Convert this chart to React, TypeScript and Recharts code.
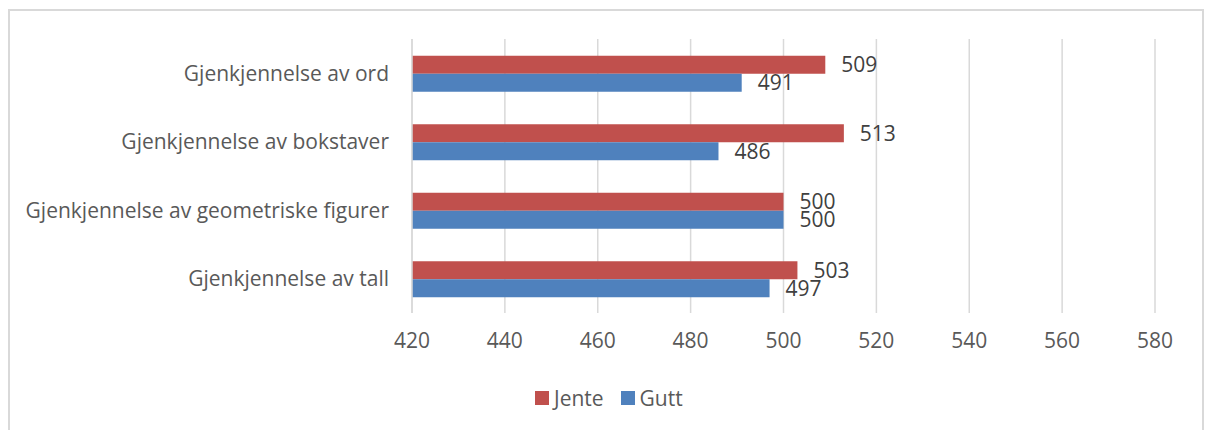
import React from "react";
import {
  BarChart,
  Bar,
  XAxis,
  YAxis,
  CartesianGrid,
  LabelList,
} from "recharts";

// data
const categories = [
  "Gjenkjennelse av ord",
  "Gjenkjennelse av bokstaver",
  "Gjenkjennelse av geometriske figurer",
  "Gjenkjennelse av tall",
];
const jente = [509, 513, 500, 503];
const gutt = [491, 486, 500, 497];
const xTicks = [420, 440, 460, 480, 500, 520, 540, 560, 580];

const RED = "#C0504D";
const BLUE = "#4F81BD";
const GRID = "#D9D9D9";
const FONT = "'Open Sans', 'DejaVu Sans', sans-serif";

const chartData = categories.map((name, i) => ({
  name,
  Jente: jente[i],
  Gutt: gutt[i],
}));

const legendItems = [
  { name: "Jente", color: RED },
  { name: "Gutt", color: BLUE },
];

const App: React.FC = () => {
  return (
    <div
      style={{
        position: "absolute",
        left: 0,
        top: 0,
        width: 1215,
        height: 430,
        background: "#fff",
        overflow: "hidden",
        fontFamily: FONT,
      }}
    >
      {/* outer chart frame */}
      <div
        style={{
          position: "absolute",
          left: 8,
          top: 9,
          width: 1192,
          height: 440,
          border: `2px solid ${GRID}`,
        }}
      />
      <div style={{ position: "absolute", left: 0, top: 0 }}>
        <BarChart
          width={1215}
          height={430}
          data={chartData}
          layout="vertical"
          margin={{ top: 39, right: 60, bottom: 77, left: 0 }}
          barCategoryGap="24.3%"
          barGap={0}
        >
          <CartesianGrid horizontal={false} stroke={GRID} strokeWidth={1.5} />
          <XAxis
            type="number"
            domain={[420, 580]}
            ticks={xTicks}
            interval={0}
            axisLine={false}
            tickLine={false}
            tickSize={0}
            tickMargin={20}
            height={40}
            tick={{ fill: "#595959", fontSize: 21, fontFamily: FONT }}
          />
          <YAxis
            type="category"
            dataKey="name"
            width={412}
            axisLine={{ stroke: GRID, strokeWidth: 1.5 }}
            tickLine={false}
            tickSize={0}
            tickMargin={23}
            interval={0}
            tick={{ fill: "#595959", fontSize: 21, fontFamily: FONT }}
          />
          <Bar dataKey="Jente" fill={RED} isAnimationActive={false}>
            <LabelList
              dataKey="Jente"
              position="right"
              offset={16}
              fill="#404040"
              fontSize={21}
              fontFamily={FONT}
            />
          </Bar>
          <Bar dataKey="Gutt" fill={BLUE} isAnimationActive={false}>
            <LabelList
              dataKey="Gutt"
              position="right"
              offset={16}
              fill="#404040"
              fontSize={21}
              fontFamily={FONT}
            />
          </Bar>
        </BarChart>
      </div>

      {/* Legend */}
      <div
        style={{
          position: "absolute",
          top: 384,
          left: 535,
          display: "flex",
        }}
      >
        {legendItems.map((item, i) => (
          <div
            key={item.name}
            style={{
              display: "flex",
              alignItems: "center",
              marginRight: i === legendItems.length - 1 ? 0 : 17,
            }}
          >
            <div
              style={{
                width: 14,
                height: 14,
                background: item.color,
                marginRight: 5,
              }}
            />
            <span style={{ color: "#595959", fontSize: 21, lineHeight: "28px" }}>
              {item.name}
            </span>
          </div>
        ))}
      </div>
    </div>
  );
};

export default App;
